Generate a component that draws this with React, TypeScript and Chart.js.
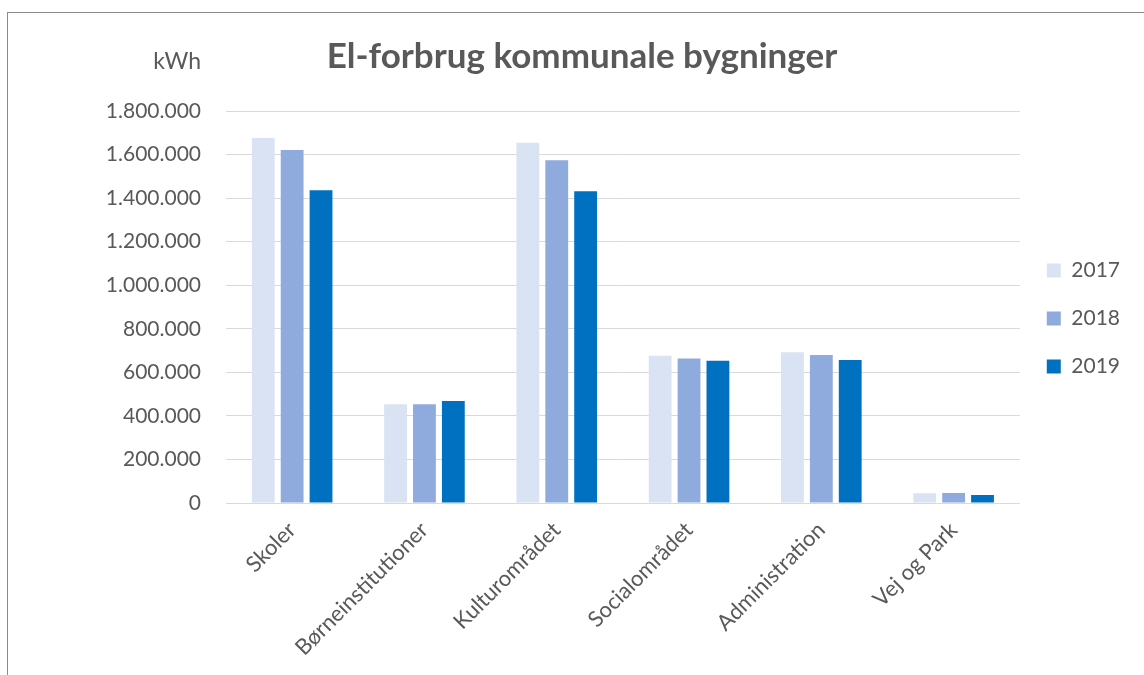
import React, { useEffect, useRef } from "react";
import { Chart, registerables } from "chart.js";

Chart.register(...registerables);

const categories = ["Skoler", "Børneinstitutioner", "Kulturområdet", "Socialområdet", "Administration", "Vej og Park"];
const seriesLabels = ["2017", "2018", "2019"];
const values2017 = [1676000, 453000, 1654000, 676000, 692000, 45000];
const values2018 = [1621000, 453000, 1574000, 664000, 680000, 46000];
const values2019 = [1436000, 468000, 1431000, 653000, 657000, 37000];
const seriesColors = ["#DAE3F3", "#8FAADC", "#0070C0"];
const yMax = 1800000;
const yStep = 200000;
const chartTitle = "El-forbrug kommunale bygninger";
const unitLabel = "kWh";

const FONT = "Lato, 'Open Sans', sans-serif";
const TEXT = "#595959";

function fmt(v: number): string {
  return String(Math.round(v)).replace(/\B(?=(\d{3})+(?!\d))/g, ".");
}

const unitPlugin = {
  id: "unitLabel",
  afterLayout(chart: any) {
    const lg = chart.legend;
    if (lg) {
      const h = lg.bottom - lg.top;
      lg.top = chart.chartArea.top + 122;
      lg.bottom = lg.top + h;
    }
    const tb = chart.titleBlock;
    if (tb) {
      tb.left += 17;
      tb.right += 17;
    }
  },
  afterDraw(chart: any) {
    const y = chart.scales.y;
    const ctx = chart.ctx;
    ctx.save();
    ctx.font = `23px ${FONT}`;
    ctx.fillStyle = TEXT;
    ctx.textAlign = "right";
    ctx.textBaseline = "middle";
    ctx.fillText(unitLabel, y.right - 25, chart.chartArea.top - 49);
    ctx.restore();
  },
};

export default function App() {
  const ref = useRef<HTMLCanvasElement | null>(null);
  useEffect(() => {
    if (!ref.current) return;
    const data = [values2017, values2018, values2019];
    const chart = new Chart(ref.current, {
      type: "bar",
      data: {
        labels: categories,
        datasets: seriesLabels.map((l, i) => ({
          label: l,
          data: data[i],
          backgroundColor: seriesColors[i],
          borderWidth: 0,
          categoryPercentage: 0.655,
          barPercentage: 0.79,
        })),
      },
      options: {
        animation: false,
        responsive: false,
        maintainAspectRatio: false,
        layout: { padding: { left: 0, right: 14, top: 0, bottom: 0 } },
        plugins: {
          title: {
            display: true,
            text: chartTitle,
            color: TEXT,
            font: { family: FONT, size: 35, weight: "bold" },
            padding: { top: 36, bottom: 33 },
          },
          legend: {
            position: "right",
            align: "start",
            labels: {
              boxWidth: 14,
              boxHeight: 14,
              padding: 27,
              color: TEXT,
              font: { family: FONT, size: 21 },
            },
          },
          tooltip: { enabled: false },
        },
        scales: {
          x: {
            grid: { display: false },
            border: { display: false },
            ticks: {
              color: TEXT,
              font: { family: FONT, size: 22 },
              minRotation: 45,
              maxRotation: 45,
              padding: 6,
            },
            afterFit: (s: any) => {
              s.height = 172;
            },
          },
          y: {
            min: 0,
            max: yMax,
            border: { display: false },
            grid: { color: "#D9D9D9", lineWidth: 1, drawTicks: false },
            ticks: {
              stepSize: yStep,
              padding: 25,
              color: TEXT,
              font: { family: FONT, size: 21 },
              callback: (v: any) => fmt(Number(v)),
            },
            afterFit: (s: any) => {
              s.width = 226;
            },
          },
        },
      },
      plugins: [unitPlugin],
    } as any);
    return () => chart.destroy();
  }, []);
  return (
    <div style={{ position: "fixed", left: 0, top: 0, width: 1144, height: 675, background: "#fff" }}>
      <canvas ref={ref} width={1144} height={675} style={{ position: "absolute", left: 0, top: 0 }} />
      <div
        style={{
          position: "absolute",
          left: 7,
          top: 12,
          width: 1200,
          height: 700,
          borderTop: "1px solid #8a8a8a",
          borderLeft: "1px solid #8a8a8a",
          pointerEvents: "none",
        }}
      />
    </div>
  );
}
